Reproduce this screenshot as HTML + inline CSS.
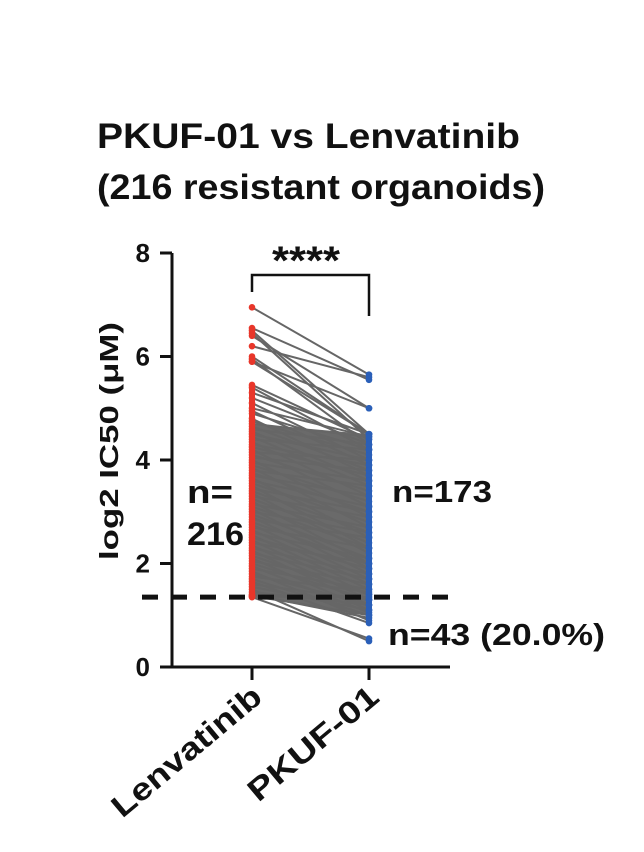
<!DOCTYPE html>
<html><head><meta charset="utf-8"><style>
body{margin:0;background:#fff;}
svg text{font-family:"Liberation Sans",Arial,sans-serif;font-weight:bold;fill:#111;}
</style></head><body>
<svg width="644" height="847" viewBox="0 0 644 847">
<text x="97" y="148" font-size="35" textLength="423" lengthAdjust="spacingAndGlyphs">PKUF-01 vs Lenvatinib</text>
<text x="97" y="199" font-size="35" textLength="448" lengthAdjust="spacingAndGlyphs">(216 resistant organoids)</text>
<g id="lines"></g>
<g id="dots"></g>
<g id="axes"></g>
<text transform="translate(118,560) rotate(-90)" font-size="26" textLength="238" lengthAdjust="spacingAndGlyphs">log2 IC50 (μM)</text>
<text x="187" y="503" font-size="32" textLength="46" lengthAdjust="spacingAndGlyphs">n=</text>
<text x="187" y="545" font-size="32" textLength="57" lengthAdjust="spacingAndGlyphs">216</text>
<text x="392" y="502" font-size="31" textLength="100" lengthAdjust="spacingAndGlyphs">n=173</text>
<text x="388" y="645" font-size="31" textLength="217" lengthAdjust="spacingAndGlyphs">n=43 (20.0%)</text>
<text x="272" y="274" font-size="40" textLength="68" lengthAdjust="spacingAndGlyphs">****</text>
<path d="M252 292 V275 H369 V316" fill="none" stroke="#111" stroke-width="2.5"/>
<text transform="translate(264,700) rotate(-40)" font-size="31" text-anchor="end" textLength="185" lengthAdjust="spacingAndGlyphs">Lenvatinib</text>
<text transform="translate(381,700) rotate(-40)" font-size="31" text-anchor="end" textLength="160" lengthAdjust="spacingAndGlyphs">PKUF-01</text>
</svg>
<script>
const categories=["Lenvatinib","PKUF-01"];
const yTicks=[0,2,4,6,8];
const threshold=1.35;
const lenvatinib=[6.95,6.55,6.5,6.45,6.4,6.2,6.0,5.95,5.9,5.9,5.45,5.4,5.3,5.2,5.1,5.0,4.95,4.9,4.8,4.75,4.7,4.65,4.6,4.55,4.5,4.45,4.4,4.35,4.3,4.25,4.2,4.15,4.1,4.05,4.0,3.95,3.9,3.85,3.8,3.75,3.7,3.65,3.6,3.55,3.5,3.45,3.4,3.35,3.3,3.25,3.2,3.15,3.1,3.05,3.0,2.95,2.9,2.85,2.8,2.75,2.7,2.65,2.6,2.55,2.5,2.45,2.4,2.35,2.3,2.25,2.2,2.15,2.1,2.05,2.0,1.95,1.9,1.85,1.8,1.75,1.7,1.65,1.6,1.55,1.5,1.45,1.4,1.38,1.36,1.35];
const pkuf=[5.65,5.55,4.5,4.4,5.0,5.6,4.5,4.3,4.5,5.0,4.4,4.2,4.5,4.3,4.0,4.45,3.9,4.2,3.7,4.1,4.45,3.8,4.3,3.6,4.0,3.5,4.2,3.3,3.9,3.7,3.1,4.0,3.4,3.8,2.9,3.6,3.2,2.7,3.5,3.0,3.3,2.5,3.1,2.8,2.3,3.0,2.6,2.2,2.9,2.4,2.0,2.7,2.3,1.9,2.6,2.1,1.8,2.5,2.0,1.7,2.3,1.6,2.1,1.5,1.9,1.4,2.0,1.3,1.8,1.2,1.7,1.4,1.1,1.6,1.3,1.05,1.5,0.9,1.2,1.45,1.0,0.85,1.3,1.1,0.5,1.2,0.95,1.0,1.35,0.55];
const NS="http://www.w3.org/2000/svg";
const xPos=i=>252+i*117;
const yPos=v=>667-v*51.75;
function mk(tag,attrs,parent){const e=document.createElementNS(NS,tag);for(const k in attrs)e.setAttribute(k,attrs[k]);parent.appendChild(e);return e;}
const L=document.getElementById('lines'),D=document.getElementById('dots'),A=document.getElementById('axes');
const minL=Math.min(...lenvatinib),maxLd=4.7,minP=1.0,maxPd=4.5;
let band=mk('polygon',{points:`${xPos(0)},${yPos(maxLd)} ${xPos(1)},${yPos(maxPd)} ${xPos(1)},${yPos(minP)} ${xPos(0)},${yPos(minL)}`,fill:'#6a6a6a'},L);


lenvatinib.forEach((v,i)=>{
 const l=mk('line',{x1:xPos(0),y1:yPos(v),x2:xPos(1),y2:yPos(pkuf[i]),stroke:'#666','stroke-width':2},L);
 
 
});
let rc=mk('rect',{x:xPos(0)-3,y:yPos(5.4),width:6,height:yPos(minL)-yPos(5.4),fill:'#e8362a'},D);


let bc=mk('rect',{x:xPos(1)-3,y:yPos(maxPd),width:6,height:yPos(minP)-yPos(maxPd),fill:'#2a5fb8'},D);


lenvatinib.forEach(v=>{const c=mk('circle',{cx:xPos(0),cy:yPos(v),r:3.3,fill:'#e8362a'},D);
 
 });
pkuf.forEach(v=>{const c=mk('circle',{cx:xPos(1),cy:yPos(v),r:3.3,fill:'#2a5fb8'},D);
 
 });
let ya=mk('line',{x1:172,y1:yPos(8),x2:172,y2:yPos(0)+1.5,stroke:'#111','stroke-width':3},A);


let xa=mk('line',{x1:170.5,y1:yPos(0),x2:450,y2:yPos(0),stroke:'#111','stroke-width':3},A);


yTicks.forEach(t=>{
 const tk=mk('line',{x1:160,y1:yPos(t),x2:172,y2:yPos(t),stroke:'#111','stroke-width':3},A);
 
 
 const tx=mk('text',{x:150,y:yPos(t)+9,'font-size':26,'text-anchor':'end'},A);
 tx.textContent=t;
 
 
});
categories.forEach((c,i)=>{
 const tk=mk('line',{x1:xPos(i),y1:yPos(0),x2:xPos(i),y2:yPos(0)+13,stroke:'#111','stroke-width':3},A);
 
 
});
let th=mk('line',{x1:142,y1:yPos(threshold),x2:458,y2:yPos(threshold),stroke:'#111','stroke-width':5,'stroke-dasharray':'16 13'},A);


</script>
</body></html>
